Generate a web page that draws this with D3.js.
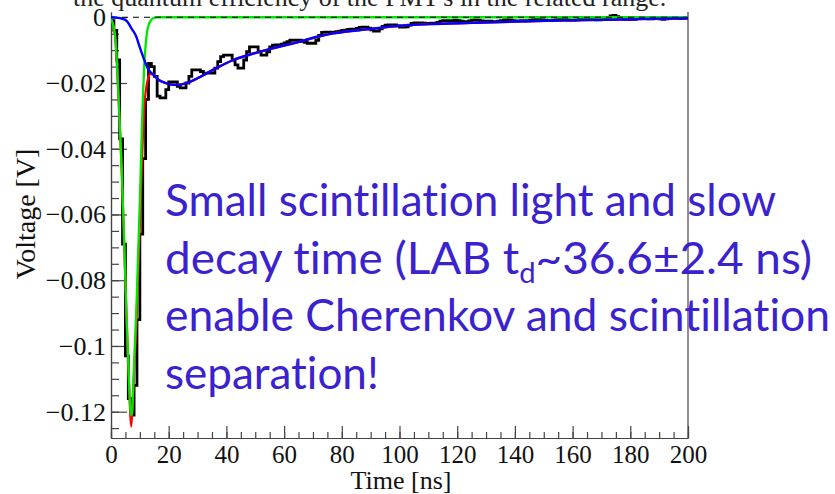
<!DOCTYPE html>
<html>
<head>
<meta charset="utf-8">
<script src="https://cdn.jsdelivr.net/npm/d3@7"></script>
<style>
  html, body { margin: 0; padding: 0; background: #fff; }
  svg { display: block; }
  .note text { font-variant-ligatures: none; font-feature-settings: "liga" 0, "clig" 0; }
</style>
</head>
<body>
<svg id="chart" width="835" height="494"></svg>
<script>
// ---- data ----
const timeTicks = [0, 20, 40, 60, 80, 100, 120, 140, 160, 180, 200];
const voltTicks = [0, -0.02, -0.04, -0.06, -0.08, -0.1, -0.12];
const voltLabels = ["0", "\u22120.02", "\u22120.04", "\u22120.06", "\u22120.08", "\u22120.1", "\u22120.12"];

// measured PMT pulse, 1 ns bins starting at t = 0
const binWidth = 1;
const pulse = [
  -0.001, -0.004, -0.013, -0.037, -0.069, -0.103, -0.116, -0.121, -0.112, -0.092,
  -0.066, -0.043, -0.025, -0.014, -0.015, -0.018, -0.024, -0.0245, -0.0245, -0.022,
  -0.0197, -0.0197, -0.0197, -0.021, -0.0215, -0.0215, -0.020, -0.018, -0.016, -0.016,
  -0.016, -0.0165, -0.017, -0.017, -0.017, -0.017, -0.0155, -0.0135, -0.012, -0.0115,
  -0.0115, -0.0115, -0.013, -0.0145, -0.0155, -0.0155, -0.013, -0.0105, -0.009, -0.009,
  -0.009, -0.0105, -0.0115, -0.0115, -0.0105, -0.009, -0.0085, -0.0084, -0.0084, -0.0082,
  -0.0078, -0.0074, -0.007, -0.007, -0.007, -0.007, -0.0073, -0.0076, -0.0079, -0.0079,
  -0.0079, -0.007, -0.0055, -0.0046, -0.0045, -0.0045, -0.0045, -0.0045, -0.0044, -0.0042,
  -0.004, -0.0039, -0.0037, -0.0036, -0.0036, -0.0034, -0.0031, -0.003, -0.003, -0.0033,
  -0.0038, -0.0042, -0.0042, -0.0035, -0.0028, -0.0024, -0.0023, -0.0023, -0.0023, -0.0026,
  -0.003, -0.003, -0.0029, -0.0024, -0.0019, -0.0017, -0.0017, -0.0017, -0.0018, -0.0019,
  -0.0019, -0.0018, -0.0018, -0.0016, -0.0012, -0.001, -0.001, -0.0011, -0.001, -0.0009,
  -0.001, -0.0012, -0.0013, -0.0013, -0.0011, -0.0009, -0.0008, -0.0009, -0.0011, -0.0012,
  -0.0012, -0.0012, -0.0013, -0.0013, -0.0012, -0.001, -0.0008, -0.0007, -0.0008, -0.001,
  -0.0011, -0.0011, -0.001, -0.001, -0.0011, -0.0009, -0.0007, -0.0006, -0.0006, -0.0007,
  -0.0009, -0.001, -0.001, -0.0009, -0.0007, -0.0005, -0.0005, -0.0006, -0.0008, -0.0009,
  -0.0009, -0.0008, -0.0006, -0.0004, -0.0004, -0.0005, -0.0006, -0.0007, -0.0008, -0.0008,
  -0.0007, -0.0005, -0.0002, 0.0004, 0.0006, 0.0002, -0.0003, -0.0005, -0.0006, -0.0007,
  -0.0007, -0.0006, -0.0004, -0.0003, -0.0003, -0.0004, -0.0005, -0.0005, -0.0004, -0.0004,
  -0.0005, -0.0006, -0.0005, -0.0003, -0.0002, -0.0002, -0.0003, -0.0004, -0.0003, -0.0002
];

// total fit [t (ns), V]
const fitTotal = [
  [0, -0.0005], [1.4, -0.0055], [2.5, -0.022], [3.7, -0.046], [4.85, -0.077],
  [6.0, -0.107], [6.6, -0.119], [7.0, -0.1245], [7.4, -0.119], [7.7, -0.114],
  [8.9, -0.091], [10.0, -0.063], [10.6, -0.047], [11.4, -0.029], [12.4, -0.0205],
  [12.9, -0.0185], [13.6, -0.0172], [14.7, -0.0174], [16.4, -0.019], [19.3, -0.0201],
  [22.5, -0.0206], [25.6, -0.0202], [30.8, -0.0182], [36, -0.0157], [42.4, -0.013],
  [54, -0.0099], [65.5, -0.0074], [77, -0.0049], [88.6, -0.0037], [100, -0.0026],
  [125, -0.0017], [155, -0.001], [200, -0.0003]
];

// fast (Cherenkov) component [t (ns), V]
const cherenkov = [
  [0, -0.0005], [0.8, -0.0025], [1.4, -0.0055], [2.0, -0.013], [2.5, -0.022],
  [3.1, -0.034], [3.7, -0.046], [4.3, -0.061], [4.85, -0.076], [5.4, -0.091],
  [6.0, -0.105], [6.5, -0.116], [6.9, -0.121], [7.3, -0.1205], [7.7, -0.112],
  [8.3, -0.099], [8.9, -0.086], [9.4, -0.072], [10.0, -0.056], [10.5, -0.040],
  [11.0, -0.026], [11.5, -0.015], [12.0, -0.0085], [12.5, -0.0045], [13.0, -0.0025],
  [13.8, -0.001], [14.6, -0.0003], [16, 0], [200, 0]
];

// slow (scintillation) component [t (ns), V]
const scintillation = [
  [0, 0], [2, -0.0001], [4, -0.0005], [5.4, -0.0011], [7.2, -0.0035], [8.9, -0.0062],
  [9.5, -0.0079], [11.2, -0.0122], [12.9, -0.0158], [14.7, -0.0175], [16.4, -0.019],
  [19.3, -0.0201], [22.5, -0.0206], [25.6, -0.0202], [30.8, -0.0182], [36, -0.0157],
  [42.4, -0.013], [48, -0.0114], [54, -0.0099], [60, -0.0086], [65.5, -0.0074],
  [71, -0.006], [77, -0.0049], [83, -0.0042], [88.6, -0.0037], [94, -0.0031],
  [100, -0.0026], [110.6, -0.0021], [125, -0.0017], [140.6, -0.0013], [155, -0.001],
  [170.5, -0.0008], [185, -0.0005], [200, -0.0003]
];

const captionAbove = "the quantum efficiency of the PMT's in the related range.";
const noteLines = [
  "Small scintillation light and slow",
  "decay time (LAB t|d|~36.6\u00b12.4 ns)",
  "enable Cherenkov and scintillation",
  "separation!"
];

// ---- layout ----
const svg = d3.select("#chart");
const frameL = 111, frameR = 688, frameT = 12, frameB = 438;

const x = d3.scaleLinear().domain([0, 200]).range([frameL, frameR]);
const y = d3.scaleLinear().domain([-0.128, 0.0016]).range([frameB, frameT]);

svg.append("defs").append("clipPath").attr("id", "plotClip")
  .append("rect").attr("x", frameL).attr("y", frameT - 2)
  .attr("width", frameR - frameL).attr("height", frameB - frameT + 4);

const serif = "Liberation Serif, Times New Roman, serif";

// caption line running off the top edge
svg.append("text")
  .attr("x", 73).attr("y", 6)
  .attr("font-family", serif)
  .attr("font-size", 26).attr("fill", "#222")
  .text(captionAbove);

// ---- axes ----
const xMinor = d3.axisBottom(x).tickValues(d3.range(0, 201, 5))
  .tickSize(-6).tickSizeOuter(0).tickFormat("");
const xMajor = d3.axisBottom(x).tickValues(timeTicks)
  .tickSize(-12).tickSizeOuter(0).tickPadding(7).tickFormat(d3.format("d"));

const gxm = svg.append("g").attr("transform", `translate(0,${frameB})`).call(xMinor);
const gx = svg.append("g").attr("transform", `translate(0,${frameB})`).call(xMajor);

const yMinor = d3.axisLeft(y).tickValues(d3.range(0, 26).map(i => -i * 0.005))
  .tickSize(-8).tickSizeOuter(0).tickFormat("");
const yMajor = d3.axisLeft(y).tickValues(voltTicks)
  .tickSize(-16).tickSizeOuter(0).tickPadding(5)
  .tickFormat((d, i) => voltLabels[i]);

const gym = svg.append("g").attr("transform", `translate(${frameL},0)`).call(yMinor);
const gy = svg.append("g").attr("transform", `translate(${frameL},0)`).call(yMajor);

[gxm, gx, gym, gy].forEach(g => {
  g.selectAll("path.domain").attr("stroke", "#444").attr("stroke-width", 1.2);
  g.selectAll(".tick line").attr("stroke", "#444").attr("stroke-width", 1.2);
  g.selectAll("text").attr("font-family", serif).attr("fill", "#111");
});
gx.selectAll("text").attr("font-size", 25);
gy.selectAll("text").attr("font-size", 26);

// right frame edge
svg.append("line")
  .attr("x1", x(200)).attr("x2", x(200)).attr("y1", frameT).attr("y2", frameB)
  .attr("stroke", "#444").attr("stroke-width", 1.2);

// axis titles
svg.append("text")
  .attr("x", 401).attr("y", 489).attr("text-anchor", "middle")
  .attr("font-family", serif).attr("font-size", 26).attr("fill", "#111")
  .text("Time [ns]");
svg.append("text")
  .attr("transform", `translate(35,214) rotate(-90)`).attr("text-anchor", "middle")
  .attr("font-family", serif).attr("font-size", 28).attr("fill", "#111")
  .text("Voltage [V]");

// ---- curves ----
const plot = svg.append("g").attr("clip-path", "url(#plotClip)");

const histPts = pulse.map((v, i) => [i * binWidth, v]);
histPts.push([pulse.length * binWidth, pulse[pulse.length - 1]]);

plot.append("path")
  .attr("d", d3.line().x(d => x(d[0])).y(d => y(d[1])).curve(d3.curveStepAfter)(histPts))
  .attr("fill", "none").attr("stroke", "#000").attr("stroke-width", 2.8)
  .attr("stroke-linejoin", "miter");

const smooth = d3.line().x(d => x(d[0])).y(d => y(d[1])).curve(d3.curveMonotoneX);

plot.append("path").attr("d", smooth(fitTotal))
  .attr("fill", "none").attr("stroke", "#ff0000").attr("stroke-width", 2.3);
plot.append("path").attr("d", smooth(cherenkov))
  .attr("fill", "none").attr("stroke", "#00e600").attr("stroke-width", 2.3);

// zero baseline
plot.append("line")
  .attr("x1", x(0)).attr("x2", x(200)).attr("y1", y(0)).attr("y2", y(0))
  .attr("stroke", "#000").attr("stroke-width", 1).attr("stroke-dasharray", "6,5");

plot.append("path").attr("d", smooth(scintillation))
  .attr("fill", "none").attr("stroke", "#0000ff").attr("stroke-width", 2.4);

// ---- annotation ----
const note = svg.append("g").attr("class", "note")
  .attr("font-family", "Lato, 'Open Sans', sans-serif")
  .attr("font-size", 44).attr("fill", "#3b22cf");
const noteWidths = [611, 647, 665, null];
noteLines.forEach((line, i) => {
  const t = note.append("text").attr("x", 165).attr("y", 216 + i * 57.5);
  line.split("|").forEach((part, j) => {
    const sp = t.append("tspan").text(part);
    if (j === 1) sp.attr("font-size", 28).attr("dy", 9);
    if (j === 2) sp.attr("dy", -9);
  });
  if (noteWidths[i]) t.attr("textLength", noteWidths[i]).attr("lengthAdjust", "spacingAndGlyphs");
});
</script>
</body>
</html>
